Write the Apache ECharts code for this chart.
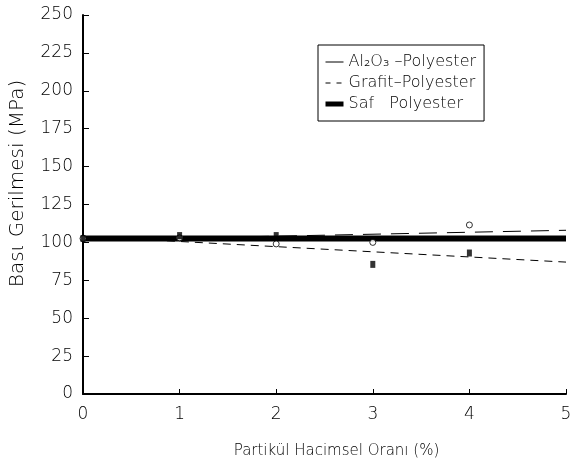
<!DOCTYPE html>
<html>
<head>
<meta charset="utf-8">
<script src="https://cdn.jsdelivr.net/npm/echarts@6/dist/echarts.min.js"></script>
<style>
  html, body { margin: 0; padding: 0; background: #fff; }
  #chart { width: 577px; height: 464px; }
</style>
</head>
<body>
<div id="chart"></div>
<script>
// fit lines (x = particle volume %, y = MPa)
var alLine = [[0, 101.5], [5, 108]];
var grafitLine = [[0, 104], [5, 87]];
var safLine = [[0, 102.6], [5, 102.6]];

// measured points
var alX = [0, 1, 2, 3, 4];
var alY = [102.6, 103, 99, 100, 111.5];
var grafitX = [0, 1, 2, 3, 4];
var grafitY = [102.6, 104.5, 104.5, 85.5, 93];

var yTicks = [0, 25, 50, 75, 100, 125, 150, 175, 200, 225, 250];

function pairs(xs, ys) {
  return xs.map(function (x, i) { return [x, ys[i]]; });
}

var font = 'DejaVu Sans';
var fw = 200;
var mychart = echarts.init(document.getElementById('chart'));
var option = {
  animation: false,
  color: ['#000', '#000', '#000', '#000', '#000'],
  textStyle: { fontFamily: font, fontWeight: fw },
  grid: { left: 82, right: 11, top: 15, bottom: 69 },
  legend: {
    orient: 'vertical',
    left: 318,
    top: 45,
    padding: [9, 8, 9, 5],
    itemGap: 5,
    itemWidth: 18,
    itemHeight: 16,
    borderColor: '#000',
    borderWidth: 1,
    backgroundColor: '#fff',
    itemStyle: { opacity: 0 },
    textStyle: { fontFamily: font, fontWeight: fw, fontSize: 16, color: '#000' },
    data: [
      { name: 'Al₂O₃ –Polyester', lineStyle: { type: 'solid', width: 1 } },
      { name: 'Grafit–Polyester', lineStyle: { type: [5, 6], width: 1 } },
      { name: 'Saf   Polyester', lineStyle: { width: 5 } }
    ]
  },
  xAxis: {
    type: 'value',
    min: 0, max: 5, interval: 1,
    name: 'Partikül Hacimsel Oranı (%)',
    nameLocation: 'middle',
    nameGap: 50,
    nameTextStyle: { fontFamily: font, fontWeight: fw, fontSize: 15, color: '#000', padding: [0, 0, 0, 24] },
    axisLine: { lineStyle: { color: '#000', width: 2 } },
    axisTick: { inside: true, length: 5, lineStyle: { color: '#000' } },
    axisLabel: { fontFamily: font, fontWeight: fw, fontSize: 17, color: '#000', margin: 12 },
    splitLine: { show: false }
  },
  yAxis: {
    type: 'value',
    min: yTicks[0], max: yTicks[yTicks.length - 1], interval: 25,
    name: 'Basι Gerilmesi (MPa)',
    nameLocation: 'middle',
    nameGap: 55,
    nameTextStyle: { fontFamily: font, fontWeight: fw, fontSize: 20, color: '#000', padding: [0, 0, 0, 42] },
    axisLine: { show: true, lineStyle: { color: '#000', width: 2 } },
    axisTick: { show: true, inside: true, length: 6, lineStyle: { color: '#000' } },
    axisLabel: { fontFamily: font, fontWeight: fw, fontSize: 17, color: '#000', margin: 10 },
    splitLine: { show: false }
  },
  series: [
    {
      name: 'Al₂O₃ –Polyester', type: 'line', data: alLine,
      symbol: 'none', lineStyle: { color: '#000', width: 1, type: [18, 10] }, z: 3
    },
    {
      name: 'Grafit–Polyester', type: 'line', data: grafitLine,
      symbol: 'none', lineStyle: { color: '#000', width: 1, type: [8, 6] }, z: 3
    },
    {
      name: 'Saf   Polyester', type: 'line', data: safLine,
      symbol: 'none', lineStyle: { color: '#000', width: 6 }, z: 2
    },
    {
      name: 'Al₂O₃ nokta', type: 'scatter', data: pairs(alX, alY),
      symbol: 'circle', symbolSize: 6,
      itemStyle: { color: '#fff', borderColor: '#000', borderWidth: 1 }, z: 4
    },
    {
      name: 'Grafit nokta', type: 'scatter', data: pairs(grafitX, grafitY),
      symbol: 'rect', symbolSize: [5, 7],
      itemStyle: { color: '#000' }, z: 4
    }
  ]
};
mychart.setOption(option);
</script>
</body>
</html>
